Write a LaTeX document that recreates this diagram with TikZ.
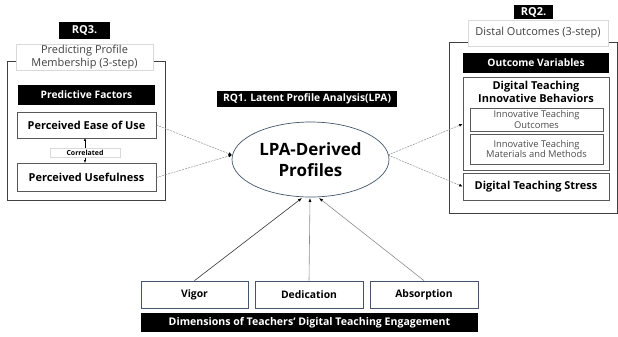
\documentclass[tikz,border=0pt]{standalone}
\usepackage{fontspec}
\setmainfont{Open Sans}
\usetikzlibrary{arrows.meta,shapes.geometric}
\definecolor{edge}{HTML}{595959}
\definecolor{ringc}{HTML}{44546A}
\begin{document}
\begin{tikzpicture}[x=1bp,y=-1bp,
  blackbar/.style={fill=black,text=white,font=\bfseries\fontsize{10.3}{11}\selectfont,inner sep=0pt,align=center},
  varbox/.style={draw=edge,line width=0.8pt,fill=white,font=\bfseries\fontsize{11}{13}\selectfont,inner sep=0pt,align=center},
  subbox/.style={draw=edge,line width=0.6pt,fill=white,text=black!70,font=\fontsize{9.4}{10.5}\selectfont,inner sep=0pt,align=center},
  titlebox/.style={draw=black!15,line width=0.4pt,fill=white,text=black!75,font=\fontsize{11}{12.5}\selectfont,inner sep=0pt,align=center},
  frame/.style={draw=black!75,line width=0.8pt},
  dimbox/.style={varbox,draw=ringc,font=\bfseries\fontsize{10.4}{12}\selectfont,minimum height=27bp},
  dashlink/.style={draw=black!45,dashed,dash pattern=on 2pt off 1pt,line width=0.5pt,-{Latex[length=3.5pt,width=3pt,black]}},
  solidlink/.style={line width=0.6pt,-{Latex[length=4pt,width=3pt,black]}}
]
\useasboundingbox (0,0) rectangle (618,336);

% ---- RQ3: predictors ----
\draw[frame] (7,61) rectangle (165,200);
\node[titlebox,minimum width=137bp,minimum height=26bp] (t3) at (84.5,57) {Predicting Profile\\Membership (3-step)};
\node[blackbar,font=\bfseries\fontsize{11}{12}\selectfont,minimum width=51bp,minimum height=17bp] (rq3) at (84.5,30.5) {RQ3.};
\node[blackbar,minimum width=137bp,minimum height=20bp] (pf) at (86.5,95) {Predictive Factors};
\node[varbox,minimum width=139bp,minimum height=26bp] (peou) at (86.5,125) {Perceived Ease of Use};
\node[varbox,minimum width=139bp,minimum height=28bp] (pu) at (86.5,177.5) {Perceived Usefulness};
\draw[line width=0.5pt,{Latex[length=3pt,width=2.5pt]}-{Latex[length=3pt,width=2.5pt]}] (85,138) -- (85,163);
\node[draw=black!15,line width=0.4pt,fill=white,font=\bfseries\fontsize{7}{8}\selectfont,inner sep=0pt,minimum width=70bp,minimum height=9bp] (corr) at (85,152.5) {Correlated};

% ---- RQ1: latent profiles ----
\node[blackbar,minimum width=180bp,minimum height=16bp] (rq1) at (307,99) {RQ1. Latent Profile Analysis(LPA)};
\node[ellipse,draw=ringc,line width=0.7pt,minimum width=157bp,minimum height=75bp,inner sep=0pt,align=center,font=\bfseries\fontsize{17}{20.5}\selectfont] (lpa) at (310.5,159.5) {LPA-Derived\\Profiles};

% ---- RQ2: outcomes ----
\draw[frame] (449,42) -- (617,42) -- (617,213) -- (449,213) -- cycle;
\node[titlebox,minimum width=140bp,minimum height=26bp] (t2) at (538,33) {Distal Outcomes (3-step)};
\node[blackbar,font=\bfseries\fontsize{11}{12}\selectfont,minimum width=39bp,minimum height=14bp] (rq2) at (533.5,12) {RQ2.};
\node[blackbar,minimum width=146bp,minimum height=20bp] (ov) at (536,63) {Outcome Variables};
\node[varbox,minimum width=146bp,minimum height=93bp,anchor=north] (dtib) at (536,77) {};
\node[font=\bfseries\fontsize{11}{13}\selectfont,align=center,inner sep=0pt] (dtibt) at (536,92) {Digital Teaching\\Innovative Behaviors};
\node[subbox,minimum width=133bp,minimum height=23bp] (ito) at (536.5,119.5) {Innovative Teaching\\Outcomes};
\node[subbox,minimum width=133bp,minimum height=30bp] (itm) at (536.5,149) {Innovative Teaching\\Materials and Methods};
\node[varbox,minimum width=146bp,minimum height=27bp] (dts) at (536,186.5) {Digital Teaching Stress};

% ---- engagement dimensions ----
\node[dimbox,minimum width=107bp] (vig) at (194.5,294.5) {Vigor};
\node[dimbox,minimum width=108bp] (ded) at (309,294.5) {Dedication};
\node[dimbox,minimum width=108bp] (abs) at (424,294.5) {Absorption};
\node[blackbar,font=\bfseries\fontsize{10.6}{12}\selectfont,minimum width=337bp,minimum height=19bp] (dim) at (309.5,322.5) {Dimensions of Teachers’ Digital Teaching Engagement};

% ---- links ----
\coordinate (lin) at (232,155);
\coordinate (lout) at (388,155);
\draw[dashlink] (peou.east) -- (lin);
\draw[dashlink] (pu.east) -- (lin);
\draw[dashlink] (lout) -- (dtib.west |- 0,124);
\draw[dashlink] (lout) -- (dts.west);
\draw[solidlink,draw=black!80] (vig.north) -- (302,198);
\draw[solidlink,draw=black!45] (ded.north) -- (310,198);
\draw[solidlink,draw=black!45] (abs.north) -- (319,198);
\end{tikzpicture}
\end{document}
